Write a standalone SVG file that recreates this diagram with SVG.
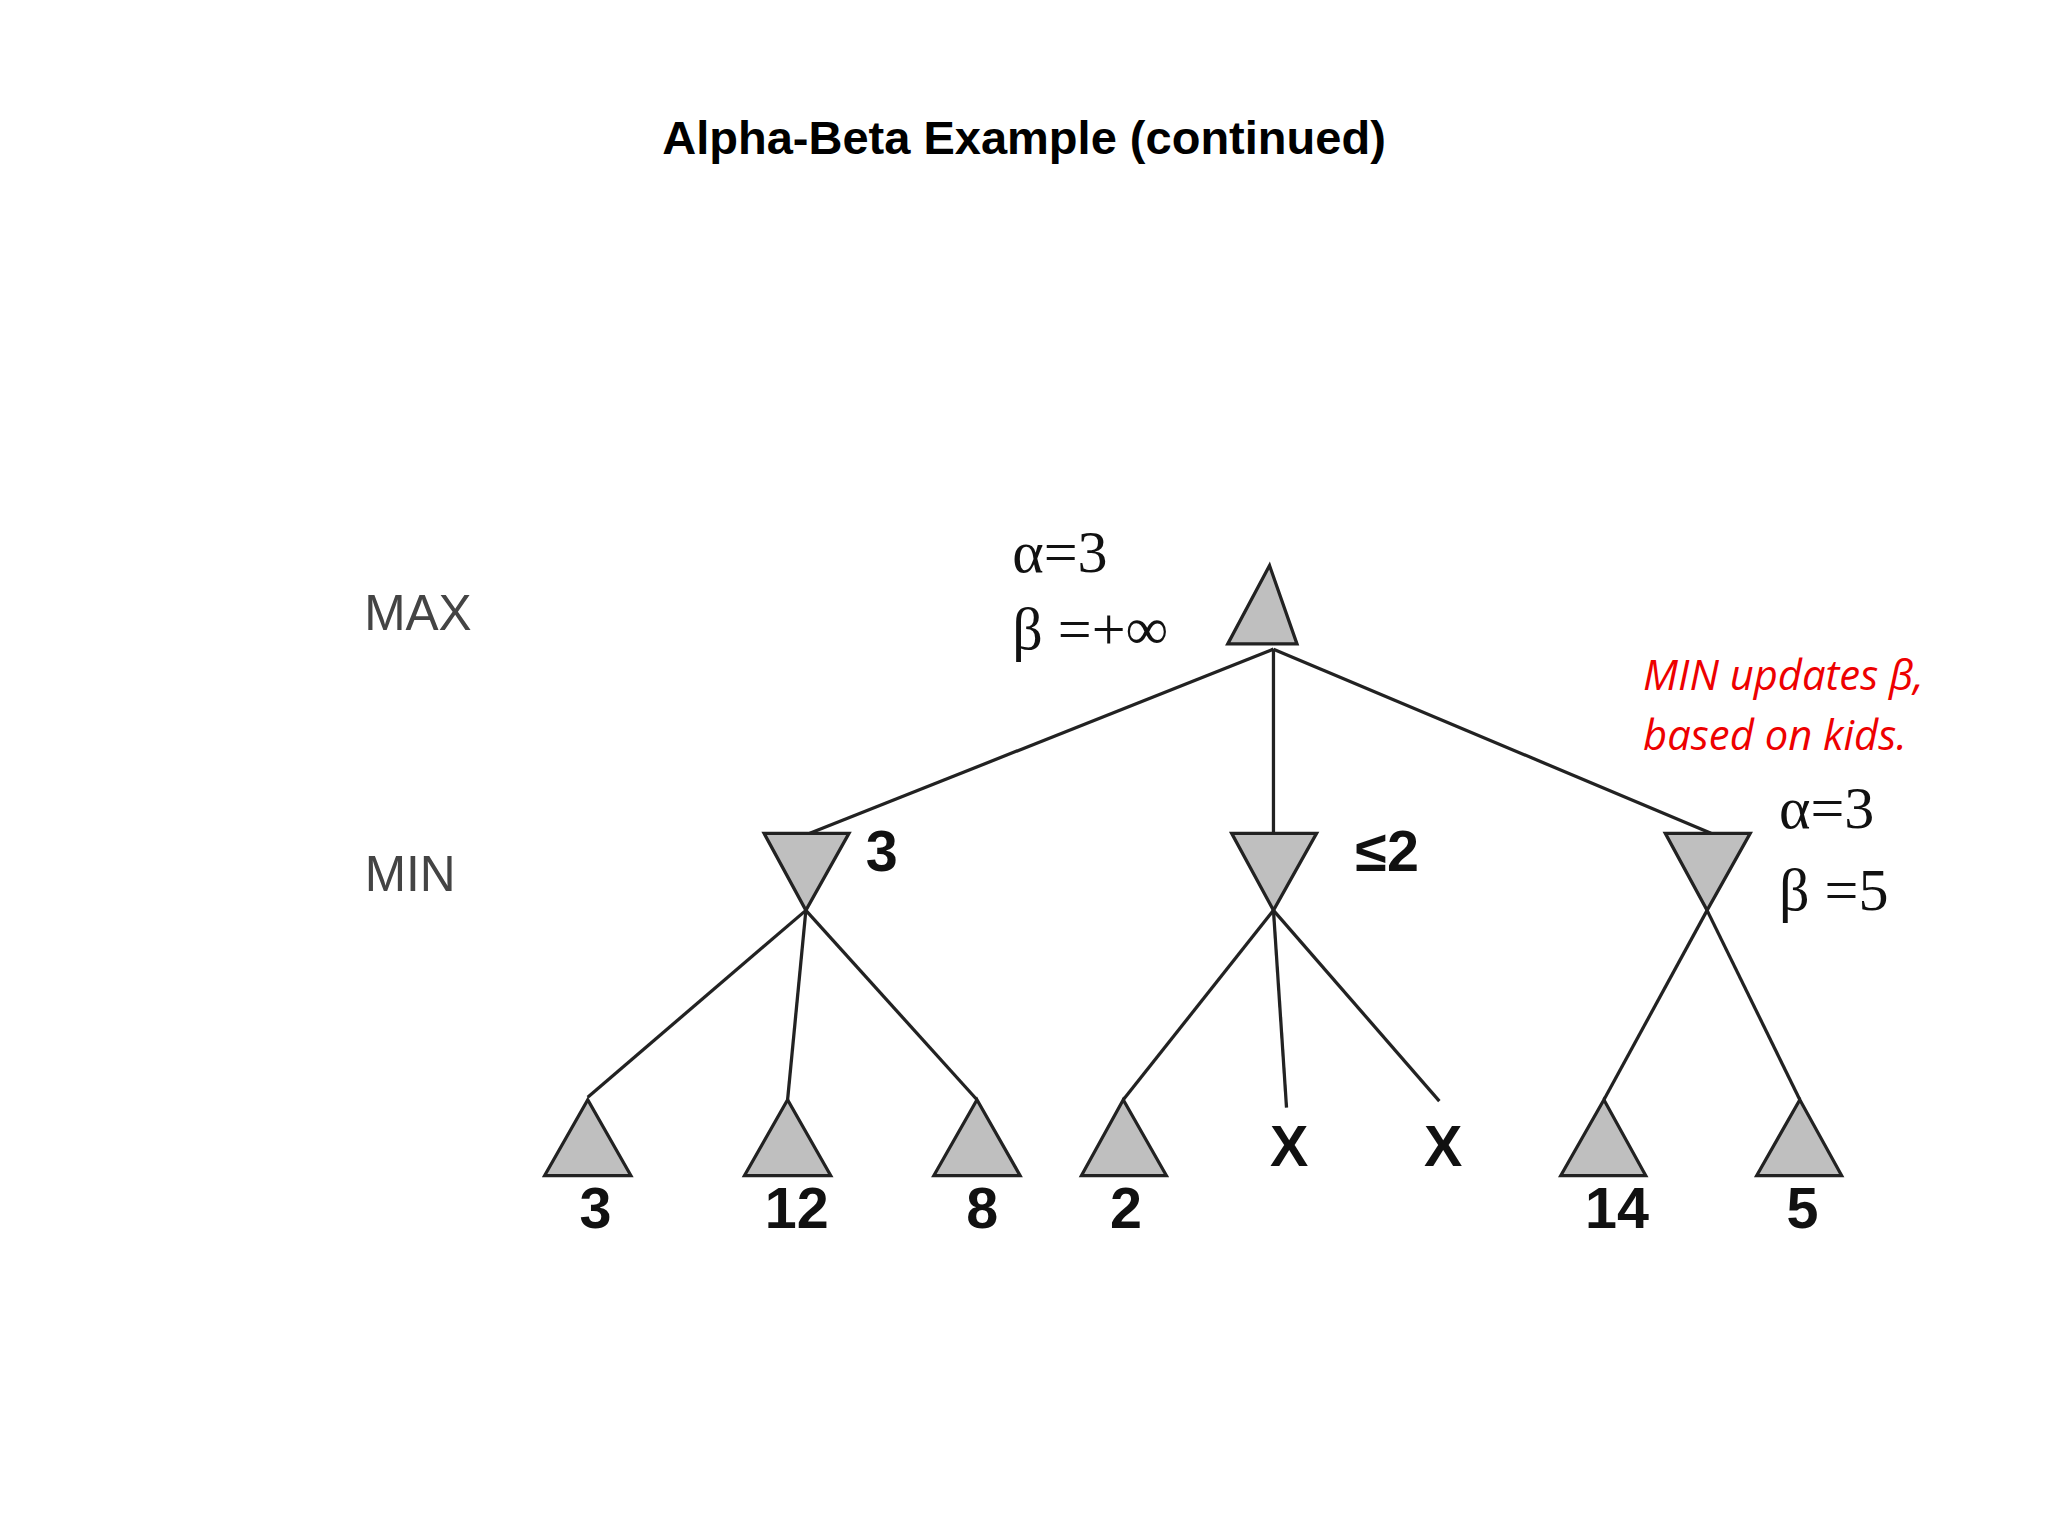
<svg xmlns="http://www.w3.org/2000/svg" width="2048" height="1536" viewBox="0 0 2048 1536">
<style>
.tri{fill:#bfbfbf;stroke:#222;stroke-width:2.5}
.edge{stroke:#222;stroke-width:2.5;fill:none}
.num{font-family:"Liberation Sans",Arial,sans-serif;font-weight:bold;font-size:44px;fill:#111;text-anchor:middle}
.lvl{font-family:"Liberation Sans",Arial,sans-serif;font-size:38px;fill:#444;text-anchor:middle}
.greek{font-family:"Liberation Serif","Times New Roman",serif;font-size:46px;fill:#111}
.note{font-family:"Open Sans","Liberation Sans",sans-serif;font-style:italic;font-size:32px;fill:#e00}
</style>
<rect width="2048" height="1536" fill="#fff"/>
<g transform="scale(1.30612)">
<text x="784" y="118" font-family="Liberation Sans,Arial,sans-serif" font-weight="bold" font-size="36" text-anchor="middle" fill="#000">Alpha-Beta Example (continued)</text>
<text class="lvl" x="320" y="482">MAX</text>
<text class="lvl" x="314" y="682">MIN</text>
<g id="connectors">
<line class="edge" x1="975" y1="497" x2="620" y2="638"/>
<line class="edge" x1="975" y1="497" x2="975" y2="638"/>
<line class="edge" x1="975" y1="497" x2="1310" y2="638"/>
<line class="edge" x1="617" y1="697" x2="450" y2="840"/>
<line class="edge" x1="617" y1="697" x2="603" y2="842"/>
<line class="edge" x1="617" y1="697" x2="748" y2="842"/>
<line class="edge" x1="975" y1="697" x2="860" y2="842"/>
<line class="edge" x1="975" y1="697" x2="985" y2="848"/>
<line class="edge" x1="975" y1="697" x2="1102" y2="843"/>
<line class="edge" x1="1307" y1="697" x2="1228" y2="842"/>
<line class="edge" x1="1307" y1="697" x2="1378" y2="842"/>
</g>
<g id="root"><polygon class="tri" points="972,433 940,493 993,493"/>
<text class="greek" x="775" y="438">α=3</text><text class="greek" x="775" y="497">β =+∞</text></g>
<g id="min1"><polygon class="tri" points="585,638 650,638 617,697"/><text class="num" x="675" y="667">3</text></g>
<g id="min2"><polygon class="tri" points="943,638 1008,638 975,697"/><text class="num" x="1062" y="667">≤2</text></g>
<g id="min3"><polygon class="tri" points="1275,638 1340,638 1307,697"/>
<text class="greek" x="1362" y="634">α=3</text><text class="greek" x="1362" y="697" fill="#e00" font-size="48">β =5</text></g>
<g id="note"><text class="note" x="1258" y="528">MIN updates β,</text><text class="note" x="1258" y="574">based on kids.</text></g>
<g id="leaf1"><polygon class="tri" points="450,842 417,900 483,900"/><text class="num" x="456" y="940">3</text></g>
<g id="leaf2"><polygon class="tri" points="603,842 570,900 636,900"/><text class="num" x="610" y="940">12</text></g>
<g id="leaf3"><polygon class="tri" points="748,842 715,900 781,900"/><text class="num" x="752" y="940">8</text></g>
<g id="leaf4"><polygon class="tri" points="860,842 828,900 893,900"/><text class="num" x="862" y="940">2</text></g>
<g id="leaf5"><text class="num" x="987" y="893">X</text></g>
<g id="leaf6"><text class="num" x="1105" y="893">X</text></g>
<g id="leaf7"><polygon class="tri" points="1228,842 1195,900 1260,900"/><text class="num" x="1238" y="940">14</text></g>
<g id="leaf8"><polygon class="tri" points="1378,842 1345,900 1410,900"/><text class="num" x="1380" y="940">5</text></g>
</g>
</svg>
